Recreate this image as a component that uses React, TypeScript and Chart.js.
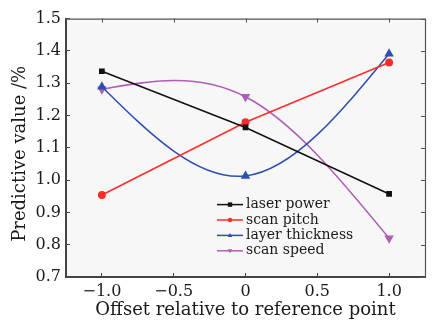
import React, { useEffect, useRef } from 'react';
import { Chart, registerables } from 'chart.js';

Chart.register(...registerables);

// ---- data ----
const xValues = [-1, 0, 1];
const laserPower = [1.337, 1.163, 0.957];
const scanPitch = [0.954, 1.179, 1.364];
const layerThickness = [1.289, 1.013, 1.391];
const scanSpeed = [1.281, 1.258, 0.82];
const seriesNames = ['laser power', 'scan pitch', 'layer thickness', 'scan speed'];
const xTicks = [-1, -0.5, 0, 0.5, 1];
const yTicks = [0.7, 0.8, 0.9, 1.0, 1.1, 1.2, 1.3, 1.4, 1.5];
const xTitle = 'Offset relative to reference point';
const yTitle = 'Predictive value /%';

const FONT = "'DejaVu Serif', serif";
const TEXT = '#1a1a1a';

const toPoints = (ys: number[]) => ys.map((y, i) => ({ x: xValues[i], y }));

// natural cubic spline slopes at the data points
function splineSlopes(xs: number[], ys: number[]): number[] {
  const n = xs.length;
  const h: number[] = [];
  for (let i = 0; i < n - 1; i++) h.push(xs[i + 1] - xs[i]);
  const M = new Array(n).fill(0);
  if (n > 2) {
    const m = n - 2;
    const a: number[] = [], b: number[] = [], c: number[] = [], d: number[] = [];
    for (let k = 0; k < m; k++) {
      const i = k + 1;
      a.push(h[i - 1]);
      b.push(2 * (h[i - 1] + h[i]));
      c.push(h[i]);
      d.push(6 * ((ys[i + 1] - ys[i]) / h[i] - (ys[i] - ys[i - 1]) / h[i - 1]));
    }
    for (let k = 1; k < m; k++) {
      const w = a[k] / b[k - 1];
      b[k] -= w * c[k - 1];
      d[k] -= w * d[k - 1];
    }
    const sol = new Array(m).fill(0);
    sol[m - 1] = d[m - 1] / b[m - 1];
    for (let k = m - 2; k >= 0; k--) sol[k] = (d[k] - c[k] * sol[k + 1]) / b[k];
    for (let k = 0; k < m; k++) M[k + 1] = sol[k];
  }
  const s: number[] = [];
  for (let i = 0; i < n - 1; i++) {
    s.push((ys[i + 1] - ys[i]) / h[i] - (h[i] * (2 * M[i] + M[i + 1])) / 6);
  }
  s.push((ys[n - 1] - ys[n - 2]) / h[n - 2] + (h[n - 2] * (M[n - 2] + 2 * M[n - 1])) / 6);
  return s;
}

const splinePlugin = {
  id: 'naturalSpline',
  beforeDatasetDraw(chart: any, args: any) {
    const meta = args.meta;
    const ds = chart.data.datasets[args.index];
    if (!ds.spline) return;
    const xs = ds.data.map((p: any) => p.x);
    const ys = ds.data.map((p: any) => p.y);
    const s = splineSlopes(xs, ys);
    const xS = chart.scales.x;
    const yS = chart.scales.y;
    meta.data.forEach((el: any, i: number) => {
      const hp = i > 0 ? xs[i] - xs[i - 1] : 0;
      const hn = i < xs.length - 1 ? xs[i + 1] - xs[i] : 0;
      el.cp1x = xS.getPixelForValue(xs[i] - hp / 3);
      el.cp1y = yS.getPixelForValue(ys[i] - (s[i] * hp) / 3);
      el.cp2x = xS.getPixelForValue(xs[i] + hn / 3);
      el.cp2y = yS.getPixelForValue(ys[i] + (s[i] * hn) / 3);
    });
    meta.dataset._pointsUpdated = true;
    meta.dataset._path = undefined;
  },
};

function drawMarker(ctx: CanvasRenderingContext2D, style: string, x: number, y: number, r: number, rot: number) {
  ctx.beginPath();
  if (style === 'rect') {
    ctx.rect(x - r, y - r, 2 * r, 2 * r);
  } else if (style === 'circle') {
    ctx.arc(x, y, r, 0, Math.PI * 2);
  } else {
    const sg = rot === 180 ? -1 : 1;
    ctx.moveTo(x, y - sg * r * 1.1);
    ctx.lineTo(x + r, y + sg * r * 0.7);
    ctx.lineTo(x - r, y + sg * r * 0.7);
    ctx.closePath();
  }
  ctx.fill();
}

const framePlugin = {
  id: 'frame',
  beforeDraw(chart: any) {
    const { ctx, chartArea: a } = chart;
    ctx.save();
    ctx.fillStyle = '#f7f7f7';
    ctx.fillRect(a.left, a.top, a.right - a.left, a.bottom - a.top);
    ctx.restore();
  },
  afterDraw(chart: any) {
    const { ctx, chartArea: a } = chart;
    ctx.save();
    ctx.strokeStyle = '#555';
    ctx.lineWidth = 1.2;
    ctx.beginPath();
    ctx.moveTo(a.left, a.top + 0.5);
    ctx.lineTo(a.right + 0.5, a.top + 0.5);
    ctx.lineTo(a.right + 0.5, a.bottom);
    ctx.stroke();
    const ys = chart.scales.y;
    const xs = chart.scales.x;
    ctx.lineWidth = 1;
    ctx.beginPath();
    yTicks.forEach((v) => {
      const py = Math.round(ys.getPixelForValue(v)) + 0.5;
      ctx.moveTo(a.right, py);
      ctx.lineTo(a.right - 4, py);
    });
    xTicks.forEach((v) => {
      const px = Math.round(xs.getPixelForValue(v)) + 0.5;
      ctx.moveTo(px, a.top);
      ctx.lineTo(px, a.top + 4);
    });
    ctx.stroke();

    // y axis title
    ctx.save();
    ctx.translate(20, (a.top + a.bottom) / 2 + 6);
    ctx.rotate(-Math.PI / 2);
    ctx.font = `18px ${FONT}`;
    ctx.fillStyle = TEXT;
    ctx.textAlign = 'center';
    ctx.textBaseline = 'middle';
    ctx.fillText(yTitle, 0, 0);
    ctx.restore();

    // legend
    const left = a.left + 151;
    const top = a.top + 186;
    const rowH = 15.4;
    ctx.font = `14px ${FONT}`;
    ctx.textBaseline = 'middle';
    chart.data.datasets.forEach((ds: any, i: number) => {
      const y = top + i * rowH;
      ctx.strokeStyle = ds.borderColor;
      ctx.lineWidth = 1.5;
      ctx.beginPath();
      ctx.moveTo(left, y);
      ctx.lineTo(left + 26, y);
      ctx.stroke();
      ctx.fillStyle = ds.borderColor;
      drawMarker(ctx, ds.pointStyle, left + 13, y, 2.2, ds.pointRotation || 0);
      ctx.fillStyle = TEXT;
      ctx.fillText(ds.label, left + 29, y);
    });
    ctx.restore();
  },
};

const fmt = (v: number) => (v === 0 ? '0' : v.toFixed(1).replace('-', '\u2212'));

export default function App() {
  const ref = useRef<HTMLCanvasElement | null>(null);
  useEffect(() => {
    if (!ref.current) return;
    const chart = new Chart(ref.current, {
      type: 'line',
      data: {
        datasets: [
          {
            label: seriesNames[0],
            data: toPoints(laserPower),
            borderColor: '#111111',
            backgroundColor: '#111111',
            pointStyle: 'rect',
            pointRadius: 3,
            borderWidth: 1.5,
            tension: 0,
          },
          {
            label: seriesNames[1],
            data: toPoints(scanPitch),
            borderColor: '#ff2b2b',
            backgroundColor: '#ff2b2b',
            pointStyle: 'circle',
            pointRadius: 3.2,
            borderWidth: 1.5,
            tension: 0,
          },
          {
            label: seriesNames[2],
            data: toPoints(layerThickness),
            borderColor: '#2d4fb0',
            backgroundColor: '#2d4fb0',
            pointStyle: 'triangle',
            pointRadius: 4,
            borderWidth: 1.5,
            tension: 0.4,
            spline: true,
          },
          {
            label: seriesNames[3],
            data: toPoints(scanSpeed),
            borderColor: '#b05cb8',
            backgroundColor: '#b05cb8',
            pointStyle: 'triangle',
            pointRotation: 180,
            pointRadius: 4,
            borderWidth: 1.5,
            tension: 0.4,
            spline: true,
          },
        ] as any,
      },
      options: {
        animation: false,
        responsive: false,
        layout: { padding: { top: 16, right: 9, left: 0, bottom: 0 } },
        plugins: { legend: { display: false }, tooltip: { enabled: false } },
        scales: {
          x: {
            type: 'linear',
            min: -1.25,
            max: 1.25,
            afterBuildTicks: (s: any) => {
              s.ticks = xTicks.map((v) => ({ value: v }));
            },
            afterFit: (s: any) => {
              s.height = 44;
            },
            grid: { drawOnChartArea: false, drawTicks: true, tickLength: -4, color: '#444' },
            border: { color: '#444', width: 2 },
            ticks: {
              padding: 9,
              color: TEXT,
              font: { family: FONT, size: 16 },
              callback: (v: any) => fmt(Number(v)),
              maxRotation: 0,
            },
            title: {
              display: true,
              text: xTitle,
              color: TEXT,
              font: { family: FONT, size: 18 },
              padding: 0,
            },
          },
          y: {
            type: 'linear',
            min: 0.7,
            max: 1.5,
            afterBuildTicks: (s: any) => {
              s.ticks = yTicks.map((v) => ({ value: v }));
            },
            afterFit: (s: any) => {
              s.width = 66;
            },
            grid: { drawOnChartArea: false, drawTicks: true, tickLength: -4, color: '#444' },
            border: { color: '#444', width: 2 },
            ticks: {
              padding: 9,
              color: TEXT,
              font: { family: FONT, size: 16 },
              callback: (v: any) => Number(v).toFixed(1),
            },
            title: { display: false },
          },
        },
      } as any,
      plugins: [splinePlugin, framePlugin],
    });
    return () => chart.destroy();
  }, []);
  return (
    <div style={{ position: 'fixed', left: 0, top: 0, width: 434, height: 321, background: '#fff' }}>
      <canvas ref={ref} width={434} height={321} style={{ display: 'block', width: 434, height: 321 }} />
    </div>
  );
}
